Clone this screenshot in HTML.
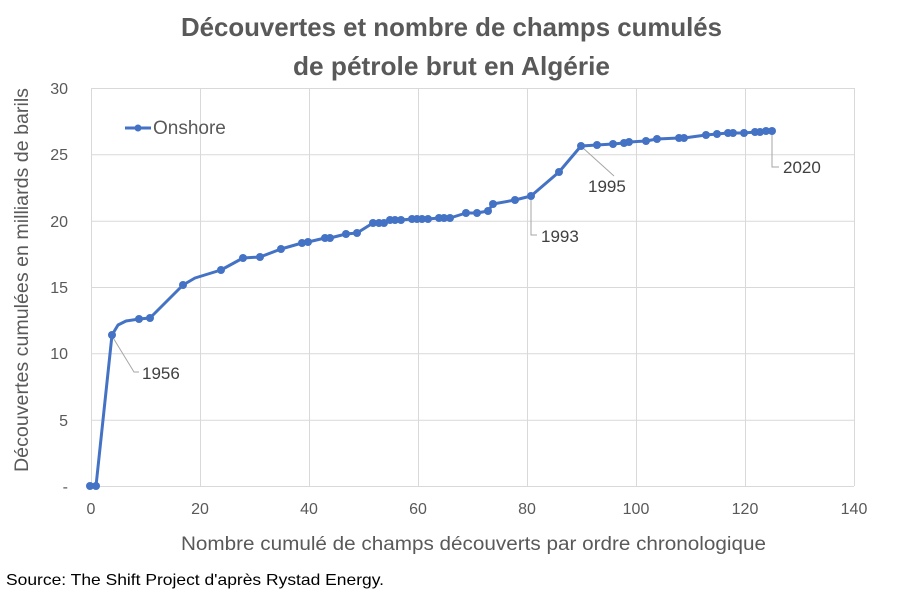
<!DOCTYPE html>
<html><head><meta charset="utf-8"><style>
body{margin:0;background:#fff}
svg text{font-family:"Liberation Sans",sans-serif}
</style></head><body>
<svg width="903" height="592" viewBox="0 0 903 592" xmlns="http://www.w3.org/2000/svg">
<rect width="903" height="592" fill="#fff"/>
<g stroke="#d9d9d9" stroke-width="1">
<line x1="91" y1="88.5" x2="854" y2="88.5"/>
<line x1="91" y1="154.8" x2="854" y2="154.8"/>
<line x1="91" y1="221.2" x2="854" y2="221.2"/>
<line x1="91" y1="287.5" x2="854" y2="287.5"/>
<line x1="91" y1="353.8" x2="854" y2="353.8"/>
<line x1="91" y1="420.2" x2="854" y2="420.2"/>
<line x1="91" y1="486.5" x2="854" y2="486.5"/>
<line x1="91.5" y1="88" x2="91.5" y2="486"/>
<line x1="200.5" y1="88" x2="200.5" y2="486"/>
<line x1="309.5" y1="88" x2="309.5" y2="486"/>
<line x1="418.5" y1="88" x2="418.5" y2="486"/>
<line x1="527.5" y1="88" x2="527.5" y2="486"/>
<line x1="636.5" y1="88" x2="636.5" y2="486"/>
<line x1="745.5" y1="88" x2="745.5" y2="486"/>
<line x1="854.5" y1="88" x2="854.5" y2="486"/>
</g>
<g font-size="16" fill="#595959" text-anchor="end">
<text x="68" y="94">30</text><text x="68" y="160">25</text><text x="68" y="227">20</text>
<text x="68" y="293">15</text><text x="68" y="359">10</text><text x="68" y="426">5</text><text x="68" y="492">-</text>
</g>
<g font-size="16" fill="#595959" text-anchor="middle">
<text x="91" y="514">0</text><text x="200" y="514">20</text><text x="309" y="514">40</text><text x="418" y="514">60</text>
<text x="527" y="514">80</text><text x="636" y="514">100</text><text x="745" y="514">120</text><text x="854" y="514">140</text>
</g>
<text x="181" y="550" font-size="19" fill="#595959" textLength="585" lengthAdjust="spacingAndGlyphs">Nombre cumulé de champs découverts par ordre chronologique</text>
<text transform="translate(28,472) rotate(-90)" font-size="19" fill="#595959" textLength="384" lengthAdjust="spacingAndGlyphs">Découvertes cumulées en milliards de barils</text>
<g font-size="26" font-weight="bold" fill="#595959">
<text x="181" y="36" textLength="541" lengthAdjust="spacingAndGlyphs">Découvertes et nombre de champs cumulés</text>
<text x="293" y="75" textLength="317" lengthAdjust="spacingAndGlyphs">de pétrole brut en Algérie</text>
</g>
<text x="6" y="585" font-size="16" fill="#000" textLength="378" lengthAdjust="spacingAndGlyphs">Source: The Shift Project d'après Rystad Energy.</text>
<g stroke="#a6a6a6" fill="none" stroke-width="1">
<polyline points="112,336 134,372 139,372"/>
<polyline points="531,198 531,235 537,235"/>
<polyline points="583,148 614,176"/>
<polyline points="772,133 772,167 779,167"/>
</g>
<g font-size="17" fill="#404040">
<text x="142" y="379">1956</text><text x="541" y="242">1993</text><text x="588" y="192">1995</text><text x="783" y="173">2020</text>
</g>
<line x1="125" y1="128" x2="151" y2="128" stroke="#4472c4" stroke-width="3"/>
<circle cx="138" cy="128" r="3.5" fill="#4472c4"/>
<text x="153" y="134" font-size="19" fill="#595959">Onshore</text>
<polyline fill="none" stroke="#4472c4" stroke-width="3" stroke-linejoin="round" points="90,486 96,486 112,335 118,325 126,321 139,319 150,318 183,285 195,278 221,270 243,258 260,257 281,249 302,243 308,242 325,238 330,238 346,234 357,233 373,223 379,223 384,223 390,220 395,220 401,220 412,219 417,219 422,219 428,219 439,218 444,218 450,218 466,213 477,213 488,211 493,204 515,200 531,196 559,172 581,146 597,145 613,144 624,143 629,142 646,141 657,139 679,138 684,138 706,135 717,134 728,133 733,133 744,133 755,132 760,132 766,131 772,131"/>
<g fill="#4472c4">
<circle cx="90" cy="486" r="4"/><circle cx="96" cy="486" r="4"/><circle cx="112" cy="335" r="4"/><circle cx="139" cy="319" r="4"/><circle cx="150" cy="318" r="4"/><circle cx="183" cy="285" r="4"/><circle cx="221" cy="270" r="4"/><circle cx="243" cy="258" r="4"/><circle cx="260" cy="257" r="4"/><circle cx="281" cy="249" r="4"/><circle cx="302" cy="243" r="4"/><circle cx="308" cy="242" r="4"/><circle cx="325" cy="238" r="4"/><circle cx="330" cy="238" r="4"/><circle cx="346" cy="234" r="4"/><circle cx="357" cy="233" r="4"/><circle cx="373" cy="223" r="4"/><circle cx="379" cy="223" r="4"/><circle cx="384" cy="223" r="4"/><circle cx="390" cy="220" r="4"/><circle cx="395" cy="220" r="4"/><circle cx="401" cy="220" r="4"/><circle cx="412" cy="219" r="4"/><circle cx="417" cy="219" r="4"/><circle cx="422" cy="219" r="4"/><circle cx="428" cy="219" r="4"/><circle cx="439" cy="218" r="4"/><circle cx="444" cy="218" r="4"/><circle cx="450" cy="218" r="4"/><circle cx="466" cy="213" r="4"/><circle cx="477" cy="213" r="4"/><circle cx="488" cy="211" r="4"/><circle cx="493" cy="204" r="4"/><circle cx="515" cy="200" r="4"/><circle cx="531" cy="196" r="4"/><circle cx="559" cy="172" r="4"/><circle cx="581" cy="146" r="4"/><circle cx="597" cy="145" r="4"/><circle cx="613" cy="144" r="4"/><circle cx="624" cy="143" r="4"/><circle cx="629" cy="142" r="4"/><circle cx="646" cy="141" r="4"/><circle cx="657" cy="139" r="4"/><circle cx="679" cy="138" r="4"/><circle cx="684" cy="138" r="4"/><circle cx="706" cy="135" r="4"/><circle cx="717" cy="134" r="4"/><circle cx="728" cy="133" r="4"/><circle cx="733" cy="133" r="4"/><circle cx="744" cy="133" r="4"/><circle cx="755" cy="132" r="4"/><circle cx="760" cy="132" r="4"/><circle cx="766" cy="131" r="4"/><circle cx="772" cy="131" r="4"/>
</g>
</svg>
</body></html>
